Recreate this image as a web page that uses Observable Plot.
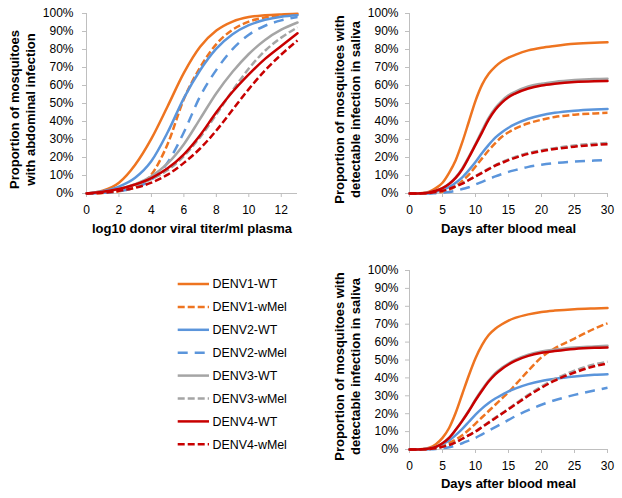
<!DOCTYPE html>
<html><head><meta charset="utf-8">
<script src="https://cdn.jsdelivr.net/npm/d3@7"></script>
<script src="https://cdn.jsdelivr.net/npm/@observablehq/plot@0.6"></script>
<style>
body{margin:0;background:#fff;}
#wrap{position:relative;width:622px;height:498px;font-family:"Liberation Sans",Arial,sans-serif;background:#fff;overflow:hidden;}
.panel{position:absolute;}
</style></head><body><div id="wrap"></div>
<script>
// ---- series definitions ----
const seriesNames = ["DENV1-WT","DENV1-wMel","DENV2-WT","DENV2-wMel","DENV3-WT","DENV3-wMel","DENV4-WT","DENV4-wMel"];
const seriesColors = ["#EE7420","#EE7420","#5B95DB","#5B95DB","#A5A5A5","#A5A5A5","#C80000","#C80000"];
const seriesDashes = [null,"7,3",null,"10,7",null,"7,3",null,"7,3"];

// ---- tick values ----
const titerTicks = [0,2,4,6,8,10,12];
const dayTicks = [0,5,10,15,20,25,30];
const pctTicks = [0,10,20,30,40,50,60,70,80,90,100];

// ---- panel 1: abdominal infection vs log10 titer ----
const titerLevels = [0,1,2,3,4,5,6,7,8,9,10,11,12,13];
const abdominal = [
  [0,1.5,6,16,30.5,48.5,67,81.5,90.5,95.5,98,99,99.5,99.8],
  [0,0.3,1.2,3.6,10.5,27.5,52.5,70,83,91,95.5,97.8,98.9,99.4],
  [0,1.2,3.8,8.7,18,34,53,68.5,80.5,88.5,93.5,96.5,98.2,99],
  [0,0.4,1.3,3.3,7.7,17.2,34,54,68.7,80.2,88.2,93.2,96.2,98],
  [0,1,2.6,5.2,9.6,16.7,27.4,41.5,55.7,67.6,77.5,85.3,91,95],
  [0,0.7,2,4.5,8,13,20.8,31.3,43.9,57.2,69.4,79.3,86.6,92.3],
  [0,1,2.5,5,8.6,14,21.8,32.4,45.1,56.5,66.2,74.8,82,89],
  [0,0.4,1.5,3.2,6,10.5,17,25,35,46.5,58,68.4,77.2,85]
];

// ---- panels 2 & 3: saliva infection vs days ----
const dayPoints = [0,2,3,4,5,6,7,8,9,10,11,12,13,14,15,16,18,20,22,25,28,30];
const salivaTop = [
  [0,0.3,1,3,6,11.5,18.5,28.5,40,51.5,60.5,66.5,70.5,73.5,75.5,77,79.5,81,82,83.2,83.8,84],
  [0,0,0.2,0.5,1,2,4,7,10.5,15,19.5,24,28,31.5,34,36,39,41,42.5,43.8,44.5,44.8],
  [0,0.1,0.4,1,2,3.5,6,9,13,17.5,22.5,27,31,34,36.5,38.5,41.5,43.5,44.8,46,46.7,47],
  [0,0,0,0.2,0.4,0.8,1.5,2.5,3.5,5,6.5,8,9.5,10.8,12,13,14.8,16,16.9,17.8,18.3,18.5],
  [0,0.2,0.6,1.5,3,5.5,9,14,20.5,27.5,35,42,47.5,51.5,54.5,56.5,59.5,61,62,63,63.6,63.8],
  [0,0.1,0.3,0.8,1.5,2.5,4,5.6,7.6,9.6,11.7,13.8,15.8,17.4,19,20.3,22.5,24,25.2,26.7,27.6,28],
  [0,0.2,0.6,1.5,3,5.3,8.7,13.5,20,27,34,41,46.5,50.5,53.5,55.5,58.3,60,61,62,62.4,62.5],
  [0,0.1,0.3,0.8,1.5,2.5,4,5.5,7.5,9.5,11.5,13.5,15.5,17,18.5,19.8,22,23.5,24.7,26,27,27.3]
];
const salivaBottom = [
  [0,0.3,1,3,6.5,12,20.5,31,41.5,51,58.5,64,67.5,70,72,73.5,75.5,76.8,77.6,78.4,78.8,79],
  [0,0.1,0.3,1,2,3.5,5.5,8,11,14.5,18,21.5,25,28.5,32,36,44,51.5,56.5,62,67.5,70.5],
  [0,0.2,0.5,1.5,3,5,8,11.5,15.5,19.5,23,26,28.5,30.5,32.5,34,36.5,38.3,39.5,40.8,41.7,42],
  [0,0,0.1,0.3,0.7,1.3,2.2,3.5,5,6.5,8.5,10.5,12.5,14.5,16.5,18.5,22,25,27.5,30.5,33,34.5],
  [0,0.2,0.6,1.5,3.5,6.5,11,16.2,21.8,28,33.5,38.5,42.7,45.6,48,50.1,53,54.8,55.8,57,57.6,58],
  [0,0.1,0.3,0.7,1.5,2.5,4,6,8,10.2,12.7,15.2,17.8,20.3,22.8,25.4,30.5,35.2,39.3,44,47.5,49],
  [0,0.2,0.6,1.5,3.5,6.5,11,16,21.5,27.5,33,38,42,45,47.5,49.5,52.3,54,55,56.2,56.8,57],
  [0,0.1,0.3,0.7,1.5,2.5,4,6,8,10,12.5,15,17.5,20,22.5,25,30,34.5,38.5,43,46.5,48]
];

// ---- titles ----
const xTitleTiter = "log10 donor viral titer/ml plasma";
const xTitleDays = "Days after blood meal";
const yTitleAbd = "Proportion of mosquitoes\nwith abdominal infection";
const yTitleSal = "Proportion of mosquitoes with\ndetectable infection in saliva";

const axisGray = "#BFBFBF";
const font = '"Liberation Sans", Arial, sans-serif';

function panel({xs, values, xDomain, xTicks, xTitle, yTitle, width, height, mL, mR, mT, mB, yPad, yDx, yDy, xDy}) {
  const marks = [
    Plot.ruleY([0], {stroke: axisGray}),
    Plot.ruleX([xDomain[0]], {stroke: axisGray}),
    Plot.axisX(xTicks, {tickSize: 4, tickPadding: 8, stroke: axisGray, fill: "#000", fontSize: 12, label: null}),
    Plot.axisY(pctTicks, {tickSize: 4, tickPadding: yPad, stroke: axisGray, fill: "#000", fontSize: 12, label: null, tickFormat: d => d + "%"})
  ];
  values.forEach((vals, i) => {
    const rows = xs.map((x, j) => ({x, y: vals[j]}));
    marks.push(Plot.line(rows, {
      x: "x", y: "y", stroke: seriesColors[i], strokeWidth: 2.5,
      strokeDasharray: seriesDashes[i] || undefined,
      strokeLinecap: seriesDashes[i] ? "butt" : "round",
      curve: "monotone-x"
    }));
  });
  marks.push(Plot.text([xTitle], {text: d => d, frameAnchor: "bottom", dy: xDy, textAnchor: "middle", lineAnchor: "middle", fontWeight: "bold", fontSize: 13, fill: "#000"}));
  marks.push(Plot.text([yTitle], {text: d => d, frameAnchor: "left", rotate: -90, dx: yDx, dy: yDy, textAnchor: "middle", lineAnchor: "middle", lineHeight: 1.25, fontWeight: "bold", fontSize: 13, fill: "#000"}));
  return Plot.plot({
    width, height, marginLeft: mL, marginRight: mR, marginTop: mT, marginBottom: mB,
    x: {domain: xDomain},
    y: {domain: [0, 100]},
    style: {fontFamily: font, fontSize: "12px", color: "#000", background: "transparent", overflow: "visible"},
    marks
  });
}

const wrap = document.getElementById("wrap");
function place(el, left, top) {
  el.classList.add("panel");
  el.style.left = left + "px";
  el.style.top = top + "px";
  wrap.appendChild(el);
}

place(panel({xs: titerLevels, values: abdominal, xDomain: [0, 13], xTicks: titerTicks, xTitle: xTitleTiter, yTitle: yTitleAbd,
  width: 311, height: 249, mL: 86, mR: 14, mT: 13, mB: 56, yPad: 9, yDx: -65, yDy: 6, xDy: 35}), 0, 0);
place(panel({xs: dayPoints, values: salivaTop, xDomain: [0, 30], xTicks: dayTicks, xTitle: xTitleDays, yTitle: yTitleSal,
  width: 311, height: 249, mL: 98, mR: 15, mT: 13, mB: 56, yPad: 7, yDx: -63, yDy: 6, xDy: 35}), 311, 0);
place(panel({xs: dayPoints, values: salivaBottom, xDomain: [0, 30], xTicks: dayTicks, xTitle: xTitleDays, yTitle: yTitleSal,
  width: 311, height: 249, mL: 98, mR: 15, mT: 21, mB: 49, yPad: 7, yDx: -63, yDy: 6.5, xDy: 34}), 311, 249);

// ---- legend ----
const legend = d3.create("svg").attr("width", 311).attr("height", 249)
  .style("position", "absolute").style("left", "0px").style("top", "249px");
const rowY = i => 35 + i * 22.9;
seriesNames.forEach((name, i) => {
  const g = legend.append("g").attr("transform", `translate(0,${rowY(i)})`);
  g.append("line").attr("x1", 177.7).attr("x2", 209).attr("y1", 0).attr("y2", 0)
    .attr("stroke", seriesColors[i]).attr("stroke-width", 2.5)
    .attr("stroke-dasharray", seriesDashes[i]).attr("stroke-linecap", "butt");
  g.append("text").attr("x", 212.5).attr("y", 0).attr("dy", "0.35em")
    .attr("font-family", font).attr("font-size", 12.4).attr("fill", "#000").text(name);
});
wrap.appendChild(legend.node());
</script></body></html>
